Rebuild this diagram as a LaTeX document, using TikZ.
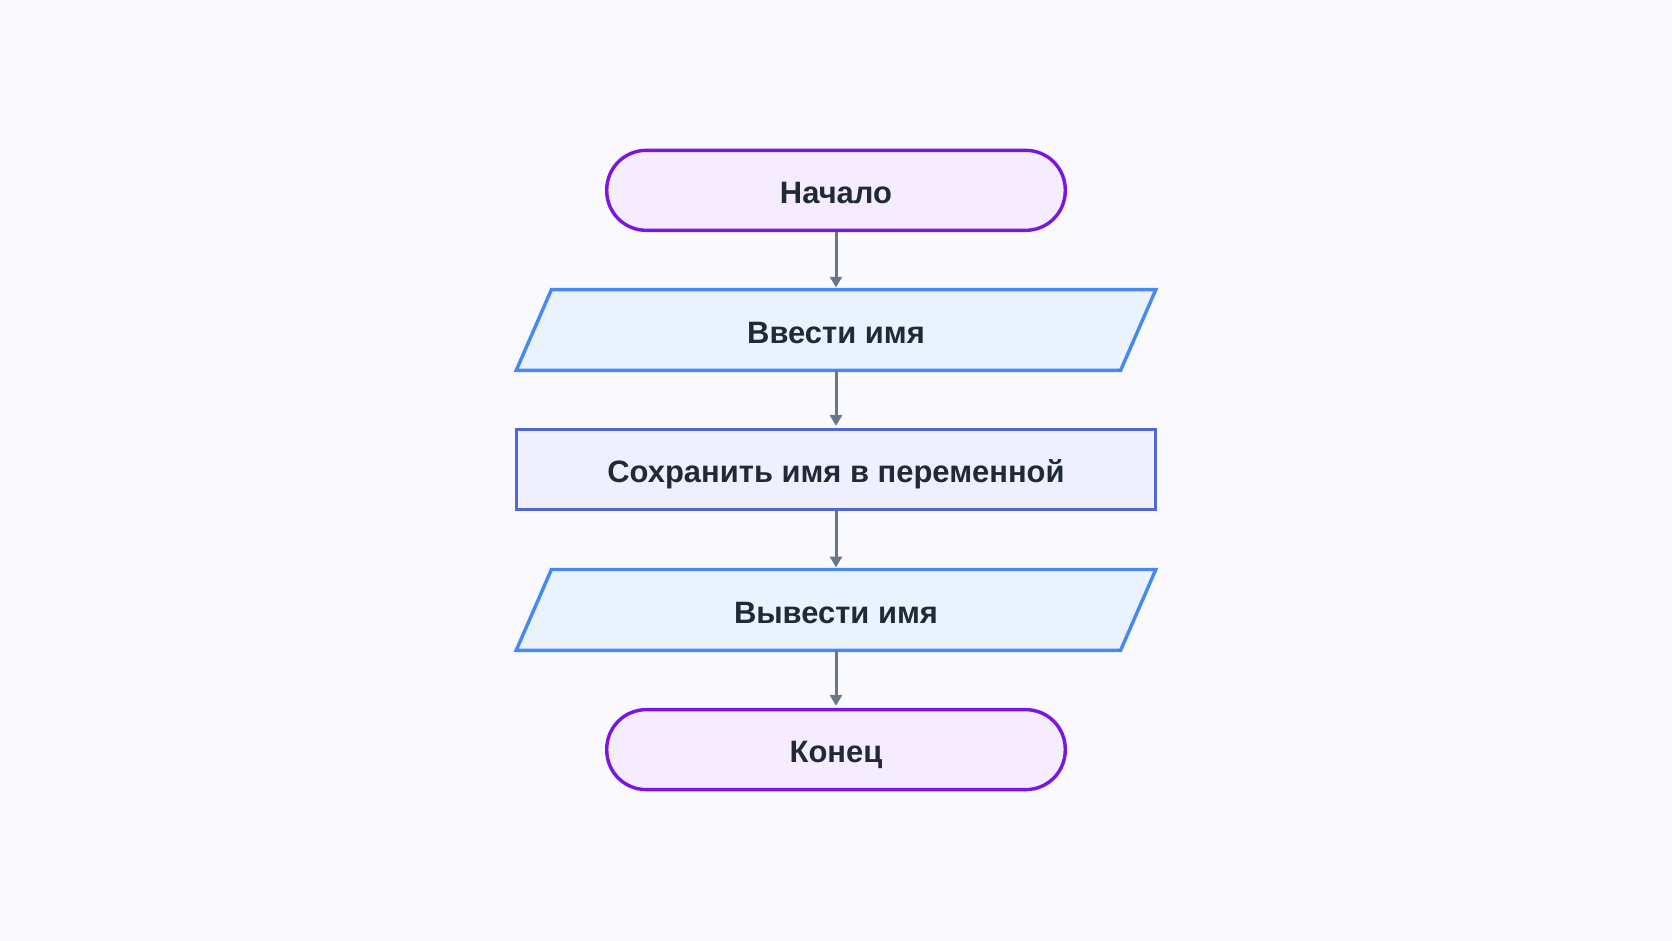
\documentclass[tikz,border=0pt]{standalone}
\usepackage{fontspec}
\setmainfont{Liberation Sans}
\usetikzlibrary{calc,arrows.meta,backgrounds}
\definecolor{bgc}{HTML}{F9F9FE}
\definecolor{termd}{HTML}{7A16E0}
\definecolor{termf}{HTML}{F5EDFD}
\definecolor{iod}{HTML}{4689F2}
\definecolor{iof}{HTML}{EAF2FE}
\definecolor{procd}{HTML}{5167D9}
\definecolor{procf}{HTML}{EEF1FD}
\definecolor{txt}{HTML}{1F2937}
\definecolor{arrc}{HTML}{687689}
\tikzset{
  lbl/.style={text=txt, font=\bfseries\fontsize{14.5}{16}\selectfont, inner sep=0pt, minimum height=37.5pt, text depth=0pt, text height=12.4pt},
  term/.style={lbl, draw=termd, fill=termf, line width=1.6pt, rounded corners=18.5pt, minimum width=215pt},
  proc/.style={lbl, draw=procd, fill=procf, line width=1.6pt, minimum width=299.5pt},
  iobox/.style={lbl, draw=none, minimum width=299.5pt},
  ioshape/.style={draw=iod, fill=iof, line width=1.6pt, line join=miter},
  arr/.style={draw=arrc, line width=1.4pt, -{Triangle[length=5pt,width=5.5pt]}, shorten >=1pt}
}
\begin{document}
\begin{tikzpicture}[x=0.5pt,y=-0.5pt]
\begin{scope}[on background layer]
\fill[bgc] (0,0) rectangle (1568,882);
\end{scope}
\useasboundingbox (0,0) rectangle (1568,882);
\node[term] (start) at (784,178.5) {Начало};
\node[iobox] (in) at (784,309.5) {Ввести имя};
\node[proc] (save) at (784,440.5) {Сохранить имя в переменной};
\node[iobox] (out) at (784,572) {Вывести имя};
\node[term] (end) at (784,703) {Конец};
\begin{scope}[on background layer]
\foreach \n in {in,out}{
  \draw[ioshape] ($(\n.north west)+(33,0)$) -- (\n.north east) -- ($(\n.south east)+(-33,0)$) -- (\n.south west) -- cycle;
}
\end{scope}
\draw[arr] (start) -- (in);
\draw[arr] (in) -- (save);
\draw[arr] (save) -- (out);
\draw[arr] (out) -- (end);
\end{tikzpicture}
\end{document}
